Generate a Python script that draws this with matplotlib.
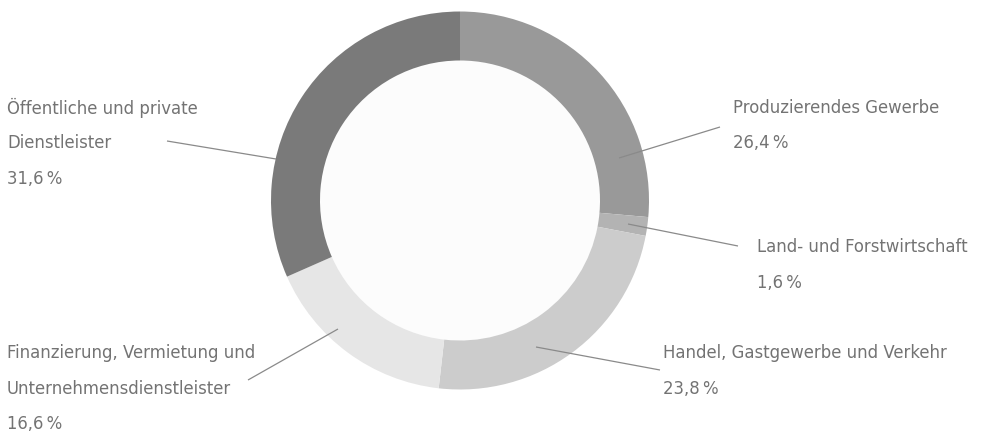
import matplotlib.pyplot as plt

# Anteile der Wirtschaftsbereiche, im Uhrzeigersinn ab 12 Uhr
sectors = [
    "Produzierendes Gewerbe",
    "Land- und Forstwirtschaft",
    "Handel, Gastgewerbe und Verkehr",
    "Finanzierung, Vermietung und\nUnternehmensdienstleister",
    "Öffentliche und private\nDienstleister",
]
shares = [26.4, 1.6, 23.8, 16.6, 31.6]
colors = ["#999999", "#b3b3b3", "#cccccc", "#e6e6e6", "#7a7a7a"]

W, H = 987, 432
TEXT = "#737373"
LINE = "#8a8a8a"

# Beschriftung: (x links, y Mitte der ersten Zeile) und Linie (von, nach) in Pixeln
label_pos = [(733, 108), (757, 247), (663, 353), (7, 353), (7, 108)]
leader = [
    ((720, 127), (619, 158)),
    ((738, 246), (628, 224)),
    ((660, 370), (536, 347)),
    ((248, 380), (338, 329)),
    ((167, 141), (276, 159)),
]

plt.rcParams["font.family"] = ["DejaVu Sans"]

fig = plt.figure(figsize=(W / 100, H / 100), dpi=100)
ax = fig.add_axes([0, 0, 1, 1])

cx, cy, r_out, ring = 460, H - 200.5, 189, 49
ax.pie(shares, colors=colors, startangle=90, counterclock=False,
       center=(cx, cy), radius=r_out, frame=True,
       wedgeprops=dict(width=ring, linewidth=0))
ax.add_patch(plt.Circle((cx, cy), r_out - ring, color="#fcfcfc", lw=0, zorder=0.5))
ax.set_xlim(0, W)
ax.set_ylim(0, H)
ax.set_aspect("equal")
ax.axis("off")

def fmt(v):
    return f"{v:.1f}".replace(".", ",") + "\u2009%"

line_h = 35.5
for name, val, (x, y), (p0, p1) in zip(sectors, shares, label_pos, leader):
    lines = name.split("\n") + [fmt(val)]
    for i, t in enumerate(lines):
        ax.text(x, H - (y + i * line_h), t, fontsize=11.9, color=TEXT,
                ha="left", va="center")
    ax.plot([p0[0], p1[0]], [H - p0[1], H - p1[1]], color=LINE, lw=0.9,
            solid_capstyle="butt", zorder=5)

fig.savefig("out.png", dpi=100, facecolor="white")
